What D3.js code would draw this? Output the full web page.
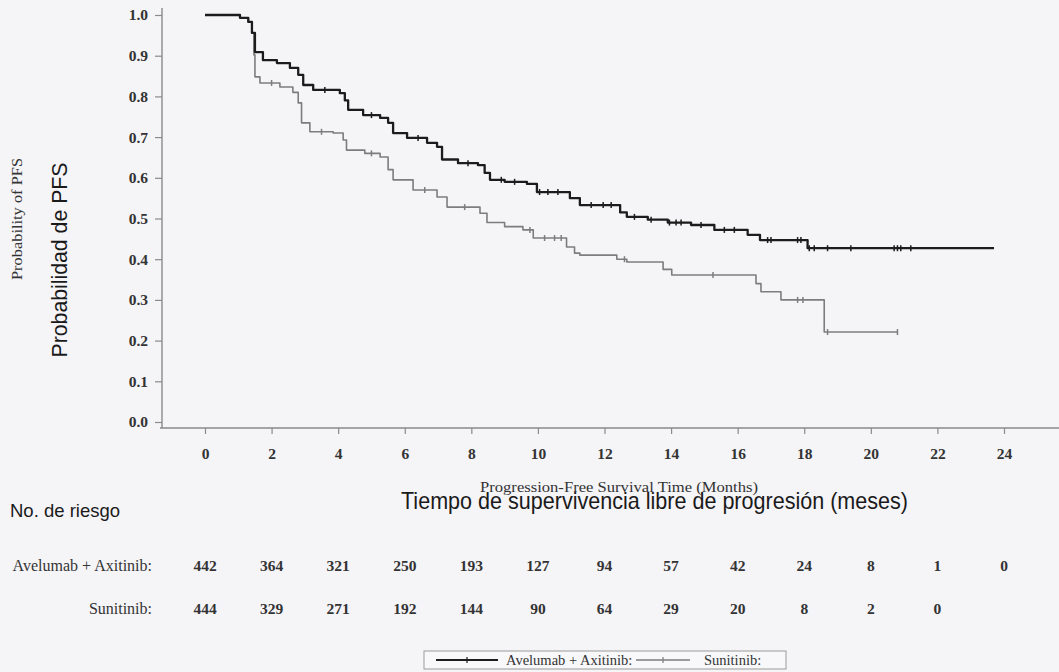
<!DOCTYPE html>
<html><head><meta charset="utf-8">
<script src="https://cdn.jsdelivr.net/npm/d3@7"></script>
<style>html,body{margin:0;padding:0;background:#f5f4f7;} svg{display:block;}</style>
</head><body><svg id="c" width="1059" height="672"></svg>
<script>
// ---------- data ----------
const months = [0, 2, 4, 6, 8, 10, 12, 14, 16, 18, 20, 22, 24];
const yTicks = [0, 0.1, 0.2, 0.3, 0.4, 0.5, 0.6, 0.7, 0.8, 0.9, 1.0];

const avelTime = [0, 1.05, 1.3, 1.41, 1.5, 1.74, 2.16, 2.55, 2.8, 2.95, 3.25, 4.05, 4.2, 4.3, 4.75, 5.26, 5.5, 5.65, 6.07, 6.67, 6.97, 7.12, 7.6, 8.2, 8.4, 8.56, 9.0, 9.67, 9.97, 10.96, 11.26, 12.47, 12.67, 13.3, 13.9, 14.6, 15.3, 16.3, 16.67, 18.1, 23.7];
const avelSurv = [1.0, 0.993, 0.983, 0.956, 0.909, 0.889, 0.882, 0.87, 0.853, 0.828, 0.816, 0.808, 0.79, 0.767, 0.754, 0.747, 0.735, 0.71, 0.698, 0.686, 0.676, 0.645, 0.636, 0.631, 0.612, 0.595, 0.59, 0.585, 0.565, 0.55, 0.533, 0.515, 0.504, 0.497, 0.49, 0.484, 0.472, 0.46, 0.447, 0.427, 0.427];
const avelCensor = [3.6, 5.0, 6.4, 7.9, 8.9, 9.3, 10.05, 10.3, 10.6, 11.6, 11.96, 12.2, 12.9, 13.4, 13.95, 14.15, 14.3, 14.9, 15.6, 15.9, 16.9, 17.0, 17.8, 17.9, 18.15, 18.3, 18.7, 19.4, 20.7, 20.8, 20.9, 21.2];

const sunTime = [0, 1.05, 1.3, 1.41, 1.47, 1.5, 1.65, 2.25, 2.64, 2.8, 2.9, 3.15, 3.85, 4.15, 4.25, 4.8, 5.26, 5.5, 5.65, 6.25, 6.97, 7.27, 8.26, 8.47, 9.0, 9.55, 9.86, 10.86, 11.1, 11.26, 12.37, 12.67, 13.76, 14.02, 16.55, 16.7, 17.3, 18.6, 20.8];
const sunSurv = [1.0, 0.993, 0.983, 0.956, 0.902, 0.848, 0.833, 0.823, 0.81, 0.784, 0.735, 0.713, 0.71, 0.693, 0.668, 0.66, 0.651, 0.62, 0.595, 0.57, 0.553, 0.528, 0.513, 0.49, 0.48, 0.472, 0.452, 0.43, 0.415, 0.41, 0.4, 0.393, 0.375, 0.361, 0.34, 0.32, 0.30, 0.221, 0.221];
const sunCensor = [2.0, 3.5, 5.0, 6.6, 7.8, 9.76, 10.2, 10.5, 10.7, 12.6, 15.26, 17.8, 17.96, 18.7, 20.8];

const riskAvel = [442, 364, 321, 250, 193, 127, 94, 57, 42, 24, 8, 1, 0];
const riskSun = [444, 329, 271, 192, 144, 90, 64, 29, 20, 8, 2, 0];

// ---------- drawing ----------
const SERIF = "'Liberation Serif','Times New Roman',serif";
const SANS = "'Liberation Sans',Arial,sans-serif";
const svg = d3.select('#c');
svg.append('rect').attr('width', 1059).attr('height', 672).attr('fill', '#f5f4f7');

const x = d3.scaleLinear().domain([0, 24]).range([205, 1004]);
const y = d3.scaleLinear().domain([0, 1]).range([422, 15]);

// y axis
const gy = svg.append('g').attr('transform', 'translate(162,0)')
  .call(d3.axisLeft(y).tickValues(yTicks).tickFormat(d3.format('.1f')).tickSize(7).tickPadding(7));
gy.select('.domain').remove();
gy.selectAll('.tick line').attr('stroke', '#8a8a8a').attr('stroke-width', 1.2);
gy.selectAll('.tick text').attr('font-family', SERIF).attr('font-size', 15.5).attr('font-weight', 'bold').attr('fill', '#333');
svg.append('line').attr('x1', 162).attr('x2', 162).attr('y1', 8).attr('y2', 428).attr('stroke', '#8a8a8a').attr('stroke-width', 1.4);

// x axis
const gx = svg.append('g').attr('transform', 'translate(0,428)')
  .call(d3.axisBottom(x).tickValues(months).tickFormat(d3.format('d')).tickSize(6).tickPadding(14));
gx.select('.domain').remove();
gx.selectAll('.tick line').attr('stroke', '#8a8a8a').attr('stroke-width', 1.2);
gx.selectAll('.tick text').attr('font-family', SERIF).attr('font-size', 15.5).attr('font-weight', 'bold').attr('fill', '#333');
svg.append('line').attr('x1', 160).attr('x2', 1059).attr('y1', 428).attr('y2', 428).attr('stroke', '#8a8a8a').attr('stroke-width', 1.4);

// axis titles
svg.append('text').attr('transform', 'translate(22,219) rotate(-90)').attr('text-anchor', 'middle')
  .attr('font-family', SERIF).attr('font-size', 14).attr('fill', '#333')
  .attr('textLength', 122).attr('lengthAdjust', 'spacingAndGlyphs').text('Probability of PFS');
svg.append('text').attr('transform', 'translate(67,260) rotate(-90)').attr('text-anchor', 'middle')
  .attr('font-family', SANS).attr('font-size', 22).attr('fill', '#1a1a1a')
  .attr('textLength', 195).attr('lengthAdjust', 'spacingAndGlyphs').text('Probabilidad de PFS');
svg.append('text').attr('x', 480).attr('y', 492)
  .attr('font-family', SERIF).attr('font-size', 15).attr('fill', '#333')
  .attr('textLength', 278).attr('lengthAdjust', 'spacingAndGlyphs').text('Progression-Free Survival Time (Months)');
svg.append('text').attr('x', 401).attr('y', 509)
  .attr('font-family', SANS).attr('font-size', 24).attr('fill', '#1a1a1a')
  .attr('textLength', 507).attr('lengthAdjust', 'spacingAndGlyphs').text('Tiempo de supervivencia libre de progresión (meses)');

// curves
const line = d3.line().x(d => x(d[0])).y(d => y(d[1])).curve(d3.curveStepAfter);
function survAt(times, surv, t) {
  const i = d3.bisectRight(times, t) - 1;
  return surv[Math.max(0, i)];
}
const series = [
  {t: sunTime, s: sunSurv, c: sunCensor, color: '#7d7d7d', w: 1.6},
  {t: avelTime, s: avelSurv, c: avelCensor, color: '#1c1c1c', w: 2.3}
];
series.forEach(sr => {
  const pts = sr.t.map((t, i) => [t, sr.s[i]]);
  svg.append('path').datum(pts).attr('d', line).attr('fill', 'none')
    .attr('stroke', sr.color).attr('stroke-width', sr.w).attr('stroke-linejoin', 'round');
  svg.append('g').selectAll('line').data(sr.c).join('line')
    .attr('x1', d => x(d)).attr('x2', d => x(d))
    .attr('y1', d => y(survAt(sr.t, sr.s, d)) - 3).attr('y2', d => y(survAt(sr.t, sr.s, d)) + 3)
    .attr('stroke', sr.color).attr('stroke-width', 1.5);
});

// risk table
svg.append('text').attr('x', 10).attr('y', 517).attr('font-family', SANS).attr('font-size', 18.5)
  .attr('fill', '#1a1a1a').text('No. de riesgo');
svg.append('text').attr('x', 152).attr('y', 571).attr('text-anchor', 'end').attr('font-family', SERIF)
  .attr('font-size', 16).attr('fill', '#333').text('Avelumab + Axitinib:');
svg.append('text').attr('x', 152).attr('y', 614).attr('text-anchor', 'end').attr('font-family', SERIF)
  .attr('font-size', 16).attr('fill', '#333').text('Sunitinib:');
svg.append('g').selectAll('text').data(riskAvel).join('text')
  .attr('x', (d, i) => x(months[i])).attr('y', 571).attr('text-anchor', 'middle')
  .attr('font-family', SERIF).attr('font-size', 15.5).attr('font-weight', 'bold').attr('fill', '#333').text(d => d);
svg.append('g').selectAll('text').data(riskSun).join('text')
  .attr('x', (d, i) => x(months[i])).attr('y', 614).attr('text-anchor', 'middle')
  .attr('font-family', SERIF).attr('font-size', 15.5).attr('font-weight', 'bold').attr('fill', '#333').text(d => d);

// legend
const lg = svg.append('g');
lg.append('rect').attr('x', 424).attr('y', 651).attr('width', 362).attr('height', 18)
  .attr('fill', '#f8f8fa').attr('stroke', '#9a9a9a').attr('stroke-width', 1);
const legendItems = [
  {label: 'Avelumab + Axitinib:', color: '#1c1c1c', w: 2, x0: 436, x1: 498, tx: 506},
  {label: 'Sunitinib:', color: '#7d7d7d', w: 1.4, x0: 636, x1: 690, tx: 704}
];
legendItems.forEach(it => {
  lg.append('line').attr('x1', it.x0).attr('x2', it.x1).attr('y1', 660).attr('y2', 660)
    .attr('stroke', it.color).attr('stroke-width', it.w);
  const mx = (it.x0 + it.x1) / 2;
  lg.append('line').attr('x1', mx).attr('x2', mx).attr('y1', 657).attr('y2', 663)
    .attr('stroke', it.color).attr('stroke-width', 1.2);
  lg.append('text').attr('x', it.tx).attr('y', 665).attr('font-family', SERIF).attr('font-size', 14.5)
    .attr('fill', '#333').text(it.label);
});
</script>
</body></html>
